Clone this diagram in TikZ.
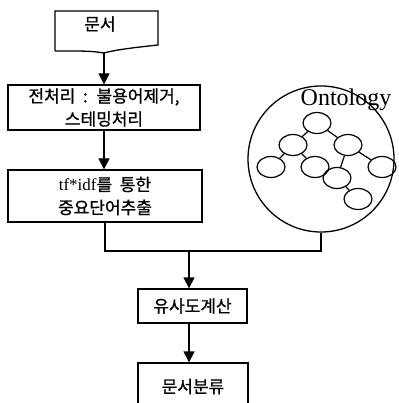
\documentclass[tikz,border=0pt]{standalone}
\usepackage{fontspec}
\setmainfont{Liberation Serif}
\newfontfamily\kr[WordSpace=2,FakeBold=0.8]{Noto Sans CJK KR}
\usetikzlibrary{arrows.meta,positioning,shapes.geometric}

\tikzset{
  box/.style={draw, line width=1.3pt, inner sep=0pt, align=center,
    font=\kr\fontsize{17}{23}\selectfont},
  arr/.style={line width=1.3pt, -{Triangle[width=11pt,length=11pt]}},
  conn/.style={line width=1.3pt},
  oval/.style={ellipse, draw, line width=1.2pt, minimum width=28pt,
    minimum height=21pt, inner sep=0pt}
}

\begin{document}
\begin{tikzpicture}[x=1pt,y=-1pt]
\useasboundingbox (0,0) rectangle (398,403);
\clip (0,0) rectangle (398,403);

% document shape
\node[font=\kr\fontsize{17}{20}\selectfont] (doc) at (100,24) {문서};
\draw[conn] (55,51) -- (55,11) -- (158,11) -- (158,45)
  .. controls (130,48) and (115,50) .. (104,53)
  .. controls (90,51) .. (55,51);
\coordinate (docbot) at (104,53);

\node[box, minimum width=192pt, minimum height=45pt] (pre) at (104,107.5)
  {전처리 : 불용어제거,\\스테밍처리};
\node[box, minimum width=194pt, minimum height=52pt] (ext) at (105,196)
  {{\rmfamily tf*idf}를 통한\\중요단어추출};
\node[box, minimum width=109pt, minimum height=34pt] (sim) at (192.5,306)
  {유사도계산};
\node[box, minimum width=110pt, minimum height=47pt] (cls) at (193,386.5)
  {문서분류};

% ontology
\node[circle, draw, line width=1.3pt, minimum size=146pt] (onto) at (321,159) {};
\node[font=\fontsize{24}{24}\selectfont] (ontolbl) at (346,100) {Ontology};
\node[oval] (c1) at (317,123) {};
\node[oval] (c2) at (293,145) {};
\node[oval] (c3) at (348,145) {};
\node[oval] (c4) at (271,167) {};
\node[oval] (c5) at (315,167) {};
\node[oval] (c6) at (337,178) {};
\node[oval] (c7) at (382,167) {};
\node[oval] (c8) at (358,199) {};
\draw[line width=1.2pt] (c1) -- (c2);
\draw[line width=1.2pt] (c1) -- (c3);
\draw[line width=1.2pt] (c2) -- (c4);
\draw[line width=1.2pt] (c2) -- (c5);
\draw[line width=1.2pt] (c3) -- (c7);
\draw[line width=1.2pt] (c3) -- (c6);
\draw[line width=1.2pt] (c6) -- (c8);

% flow
\coordinate (mrg) at (189,251);
\draw[arr] (docbot) -- (docbot |- pre.north);
\draw[arr] (docbot |- pre.south) -- (docbot |- ext.north);
\draw[conn] (ext.south) |- (mrg) -| (onto.south);
\draw[arr] (mrg) -- (mrg |- sim.north);
\draw[arr] (mrg |- sim.south) -- (mrg |- cls.north);
\end{tikzpicture}
\end{document}
